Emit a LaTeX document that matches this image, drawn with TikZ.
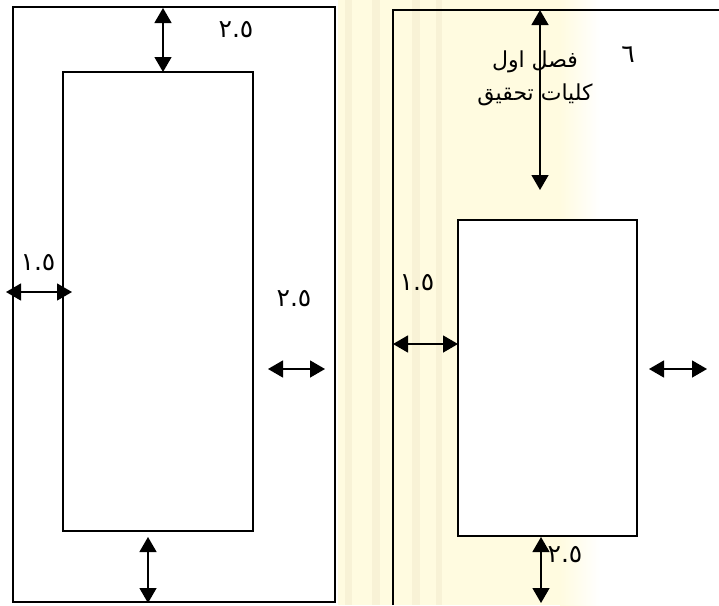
\documentclass[tikz,border=0pt]{standalone}
\usepackage{fontspec}
\TeXXeTstate=1
\newfontfamily\arabicfont[Script=Arabic]{DejaVu Sans}
\usetikzlibrary{arrows.meta}
\definecolor{wmark}{RGB}{255,251,224}
\definecolor{wstripe}{RGB}{248,242,214}
\tikzset{
  dim/.style={{Triangle[width=17pt,length=15pt]}-{Triangle[width=17pt,length=15pt]}, line width=1.4pt},
  frame/.style={line width=1.3pt},
  num/.style={font=\arabicfont\fontsize{25}{27}\selectfont},
}
\begin{document}
\begin{tikzpicture}[x=1pt, y=-1pt]
    \useasboundingbox (0,0) rectangle (719,605);
    % watermark
    \fill[wmark] (338,0) rectangle (560,605);
    \fill[wstripe] (345,0) rectangle (352,605);
    \fill[wstripe] (372,0) rectangle (380,605);
    \fill[wstripe] (412,0) rectangle (420,605);
    \fill[wstripe] (436,0) rectangle (442,605);
    \shade[left color=wmark, right color=white] (560,0) rectangle (600,605);

    % left page
    \draw[frame, fill=white] (13,7) rectangle (335,602);
    \draw[frame, fill=white] (63,72) rectangle (253,531);
    \coordinate (Ltop1) at (163,8);
    \coordinate (Ltop2) at (163,72);
    \coordinate (Lleft1) at (6,292);
    \coordinate (Lleft2) at (72,292);
    \coordinate (Lright1) at (268,369);
    \coordinate (Lright2) at (325,369);
    \coordinate (Lbot1) at (148,537);
    \coordinate (Lbot2) at (148,603);
    \draw[dim] (Ltop1) -- (Ltop2);
    \draw[dim] (Lleft1) -- (Lleft2);
    \draw[dim] (Lright1) -- (Lright2);
    \draw[dim] (Lbot1) -- (Lbot2);
    \node[num] (Ltoplabel) at (236,30) {٢.٥};
    \node[num] (Lleftlabel) at (38,263) {١.٥};
    \node[num] (Lrightlabel) at (294,299) {٢.٥};

    % right page
    \draw[frame] (393,605) -- (393,10) -- (719,10);
    \draw[frame, fill=white] (458,220) rectangle (637,536);
    \coordinate (Rtop1) at (540,10);
    \coordinate (Rtop2) at (540,190);
    \coordinate (Rleft1) at (393,344);
    \coordinate (Rleft2) at (458,344);
    \coordinate (Rright1) at (649,369);
    \coordinate (Rright2) at (707,369);
    \coordinate (Rbot1) at (541,537);
    \coordinate (Rbot2) at (541,603);
    \draw[dim] (Rtop1) -- (Rtop2);
    \draw[dim] (Rleft1) -- (Rleft2);
    \draw[dim] (Rright1) -- (Rright2);
    \draw[dim] (Rbot1) -- (Rbot2);
    \node[num] (Rchap) at (628,55) {٦};
    \node[font=\arabicfont\fontsize{22}{33}\selectfont, align=center] (Rtitle) at (535,78)
        {\beginR فصل اول\endR\\ \beginR كليات تحقيق\endR};
    \node[num] (Rleftlabel) at (417,283) {١.٥};
    \node[num] (Rbotlabel) at (565,555) {٢.٥};
\end{tikzpicture}
\end{document}
